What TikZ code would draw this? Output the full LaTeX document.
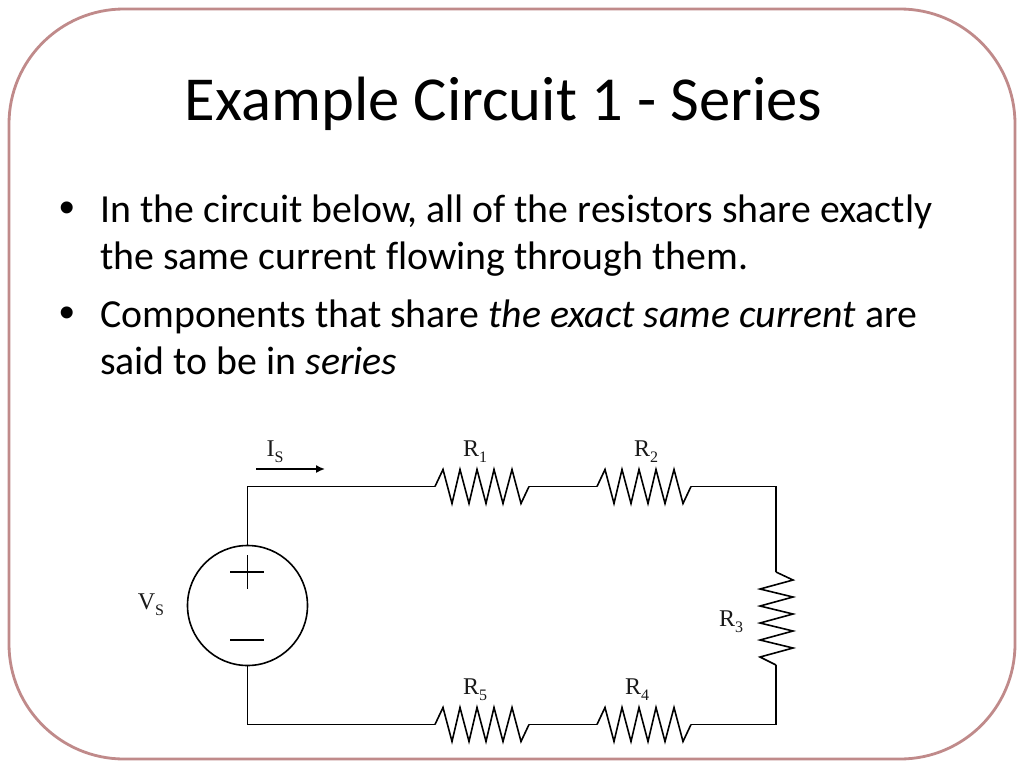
\documentclass[tikz,border=0pt]{standalone}
\usepackage{fontspec}
\setmainfont{Carlito}
\newfontfamily\labelfont{Liberation Serif}
\newfontfamily\bulletfont{Liberation Sans}
\usetikzlibrary{arrows.meta}
\tikzset{
  x=1pt,y=-1pt,
  wire/.style={line width=1.6pt,black,line join=miter},
  frame/.style={draw=frameRose,line width=2.8pt,rounded corners=115pt},
  titletext/.style={font=\fontsize{62.6}{66}\selectfont,anchor=base,inner sep=0},
  bodytext/.style={font=\fontsize{39.8}{44}\selectfont,anchor=base west,inner sep=0},
  bullettext/.style={font=\bulletfont\fontsize{44}{48}\selectfont,anchor=base west,inner sep=0},
  complabel/.style={font=\labelfont\fontsize{24}{26}\selectfont,anchor=base,inner sep=0,text=black!90},
  source/.style={circle,draw,wire,minimum size=120pt,inner sep=0}
}
\definecolor{frameRose}{HTML}{C08A8A}
\newcommand{\lowsub}[1]{\raisebox{-6pt}{\fontsize{16}{18}\selectfont #1}}
\newcommand{\hres}[3]{% name, x start, y
  \coordinate (#1a) at (#2,#3);
  \coordinate (#1b) at (#2+94,#3);
  \draw[wire] (#1a) -- ++(8,-17) -- ++(9,34) -- ++(8,-34) -- ++(9,34) -- ++(8,-34) -- ++(9,34) -- ++(8,-34) -- ++(9,34) -- ++(9,-34) -- ++(9,34) -- (#1b);
}
\begin{document}
\begin{tikzpicture}
\useasboundingbox (0,0) rectangle (1024,768);
\fill[white] (0,0) rectangle (1024,768);
\draw[frame] (9,9) rectangle (1015,759);

\node[titletext] (title) at (503.5,120) {Example Circuit 1 - Series};

\node[bullettext] (b1) at (59.5,222.5) {•};
\node[bodytext] (l1) at (100,222.5) {In the circuit below, all of the resistors share exactly};
\node[bodytext] (l2) at (100,269.5) {the same current f\kern0pt lowing through them.};
\node[bullettext] (b2) at (59.5,327) {•};
\node[bodytext] (l3) at (100,327) {Components that share \textit{the exact same current} are};
\node[bodytext] (l4) at (100,374.5) {said to be in \textit{series}};

% source
\node[source] (vs) at (247.5,605.5) {};
\coordinate (plusL) at (230,572);
\coordinate (plusR) at (264,572);
\coordinate (plusT) at (247.5,555);
\coordinate (plusB) at (247.5,589);
\coordinate (minusL) at (230,640);
\coordinate (minusR) at (264,640);
\draw[wire] (plusL) -- (plusR);
\draw[wire] (plusT) -- (plusB);
\draw[wire] (minusL) -- (minusR);

% resistors
\hres{Rone}{435}{486.5}
\hres{Rtwo}{597}{486.5}
\hres{Rfive}{435}{724.5}
\hres{Rfour}{597}{724.5}
\coordinate (Rthreea) at (776,572);
\coordinate (Rthreeb) at (776,665);
\draw[wire] (Rthreea) -- (793,580) -- (760,589) -- (793,597) -- (760,606) -- (793,614) -- (760,623) -- (793,631) -- (760,640) -- (793,648) -- (760,657) -- (Rthreeb);

% corners
\coordinate (tl) at (247.5,486.5);
\coordinate (bl) at (247.5,724.5);
\coordinate (tr) at (776,486.5);
\coordinate (br) at (776,724.5);

% wires
\draw[wire] (vs.north) -- (tl) -- (Ronea);
\draw[wire] (Roneb) -- (Rtwoa);
\draw[wire] (Rtwob) -- (tr) -- (Rthreea);
\draw[wire] (Rthreeb) -- (br) -- (Rfourb);
\draw[wire] (Rfoura) -- (Rfiveb);
\draw[wire] (Rfivea) -- (bl) -- (vs.south);

% current arrow
\coordinate (ia) at (256,469);
\coordinate (ib) at (325,469);
\draw[wire,-{Latex[length=9pt,width=8pt]}] (ia) -- (ib);

% labels
\node[complabel] (Is) at (275,456) {I\lowsub{S}};
\node[complabel] (Vs) at (151,609) {V\lowsub{S}};
\node[complabel] (R1) at (475,456) {R\lowsub{1}};
\node[complabel] (R2) at (646,456) {R\lowsub{2}};
\node[complabel] (R3) at (731,626) {R\lowsub{3}};
\node[complabel] (R4) at (637,694) {R\lowsub{4}};
\node[complabel] (R5) at (475,694) {R\lowsub{5}};
\end{tikzpicture}
\end{document}
